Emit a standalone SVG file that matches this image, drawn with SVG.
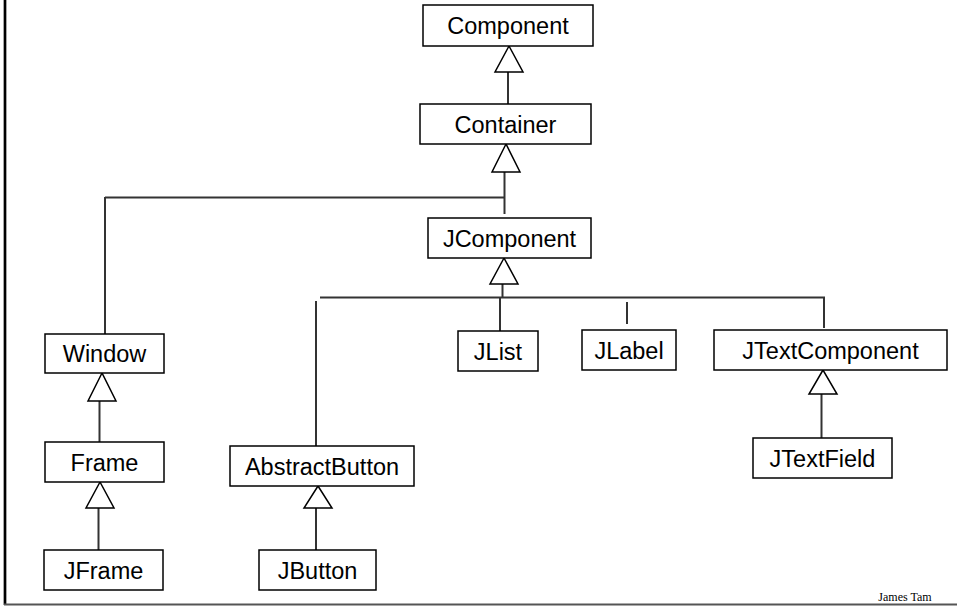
<svg xmlns="http://www.w3.org/2000/svg" width="957" height="607" viewBox="0 0 957 607">
<style>
.box{fill:#fff;stroke:#000;stroke-width:1.5}
.lbl{font-family:"Liberation Sans",Arial,sans-serif;font-size:23.5px;fill:#000;text-anchor:middle}
.ln{stroke:#333;stroke-width:2;fill:none}
.tri{fill:#fff;stroke:#000;stroke-width:1.5}
</style>
<rect width="957" height="607" fill="#fff"/>
<line x1="5" y1="0" x2="5" y2="605" stroke="#000" stroke-width="2.7"/>
<line x1="4" y1="604.5" x2="957" y2="604.5" stroke="#555" stroke-width="2"/>
<text x="905" y="601" font-family="Liberation Serif,Times New Roman,serif" font-size="12" text-anchor="middle" fill="#000">James Tam</text>
<g id="connectors">
<line class="ln" x1="508" y1="72" x2="508" y2="104"/>
<line class="ln" x1="504.5" y1="172" x2="504.5" y2="214"/>
<line class="ln" x1="105" y1="197.5" x2="505" y2="197.5"/>
<line class="ln" x1="105" y1="197" x2="105" y2="334"/>
<line class="ln" x1="502.5" y1="284" x2="502.5" y2="298"/>
<line class="ln" x1="320" y1="297.5" x2="825" y2="297.5"/>
<line class="ln" x1="316" y1="301" x2="316" y2="446"/>
<line class="ln" x1="500" y1="297" x2="500" y2="331"/>
<line class="ln" x1="627" y1="302" x2="627" y2="324"/>
<line class="ln" x1="824" y1="297" x2="824" y2="328"/>
<line class="ln" x1="99.5" y1="401" x2="99.5" y2="442"/>
<line class="ln" x1="98.5" y1="508" x2="98.5" y2="550"/>
<line class="ln" x1="316" y1="508" x2="316" y2="550"/>
<line class="ln" x1="821.5" y1="394" x2="821.5" y2="438"/>
<polygon class="tri" points="509,46 495,72 523,72"/>
<polygon class="tri" points="506,144 492,172 520,172"/>
<polygon class="tri" points="504,258 490,284 518,284"/>
<polygon class="tri" points="102,373 88,401 116,401"/>
<polygon class="tri" points="100,482 86,508 114,508"/>
<polygon class="tri" points="318,486 304,508 332,508"/>
<polygon class="tri" points="823,370 809,394 837,394"/>
</g>
<g id="Component"><rect class="box" x="423" y="5" width="170" height="41"/><text class="lbl" x="508" y="34">Component</text></g>
<g id="Container"><rect class="box" x="420" y="104" width="171" height="40"/><text class="lbl" x="505.5" y="132.5">Container</text></g>
<g id="JComponent"><rect class="box" x="428" y="218" width="163" height="40"/><text class="lbl" x="509.5" y="246.5">JComponent</text></g>
<g id="Window"><rect class="box" x="45" y="334" width="119" height="39"/><text class="lbl" x="104.5" y="362">Window</text></g>
<g id="Frame"><rect class="box" x="45" y="442" width="119" height="40"/><text class="lbl" x="104.5" y="470.5">Frame</text></g>
<g id="JFrame"><rect class="box" x="44" y="550" width="119" height="40"/><text class="lbl" x="103.5" y="578.5">JFrame</text></g>
<g id="AbstractButton"><rect class="box" x="230" y="446" width="184" height="40"/><text class="lbl" x="322" y="474.5">AbstractButton</text></g>
<g id="JButton"><rect class="box" x="259" y="550" width="117" height="40"/><text class="lbl" x="317.5" y="578.5">JButton</text></g>
<g id="JList"><rect class="box" x="458" y="331" width="80" height="40"/><text class="lbl" x="498" y="359.5">JList</text></g>
<g id="JLabel"><rect class="box" x="582" y="330" width="94" height="40"/><text class="lbl" x="629" y="358.5">JLabel</text></g>
<g id="JTextComponent"><rect class="box" x="714" y="330" width="233" height="40"/><text class="lbl" x="830.5" y="358.5">JTextComponent</text></g>
<g id="JTextField"><rect class="box" x="753" y="438" width="139" height="40"/><text class="lbl" x="822.5" y="466.5">JTextField</text></g>
</svg>
